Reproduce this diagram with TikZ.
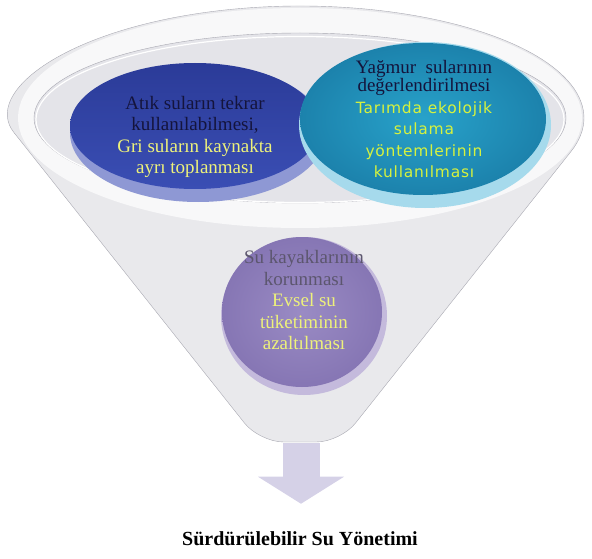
\documentclass[tikz,border=0pt]{standalone}
\usepackage{fontspec}
\setmainfont{Liberation Serif}
\newfontfamily\tahoma[LetterSpace=5]{DejaVu Sans}
\usetikzlibrary{shapes.geometric,arrows.meta,positioning}
\definecolor{kenar}{HTML}{A9A9B2}
\definecolor{agiz}{HTML}{E4E4E9}
\definecolor{govde}{HTML}{E9E9EC}
\definecolor{mavi}{HTML}{3A4EB4}
\definecolor{mavikoyu}{HTML}{2B3B98}
\definecolor{maviacik}{HTML}{8E98D4}
\definecolor{turkuaz}{HTML}{28A2CA}
\definecolor{turkuazkoyu}{HTML}{1C82AC}
\definecolor{turkuazacik}{HTML}{A6DAEC}
\definecolor{mor}{HTML}{9A8BC4}
\definecolor{morkoyu}{HTML}{8676B4}
\definecolor{moracik}{HTML}{C4BADC}
\definecolor{koyu}{HTML}{14143C}
\definecolor{gri}{HTML}{5C566E}
\definecolor{sari}{HTML}{EEF27A}
\definecolor{yesil}{HTML}{D6F23E}
\definecolor{ok}{HTML}{D5D1E7}

\begin{document}
\begin{tikzpicture}[x=1pt,y=-1pt]
\tikzstyle{every node}+=[inner sep=0pt]
\tikzstyle{balon}=[ellipse, inner sep=0pt]
\tikzstyle{yazi}=[align=center, font=\fontsize{19}{21.5}\selectfont]
\tikzstyle{okstil}=[ok, line width=37pt, -{Triangle[width=86pt,length=27pt,line width=0pt]}]
\useasboundingbox (0,0) rectangle (592,559);
% funnel
\draw [kenar, fill=govde] (29,151.5) arc[start angle=162.6, end angle=377.4, x radius=284, y radius=112] [rounded corners=24pt] -- (340.5,442) -- (259.5,442) -- cycle;
\fill [white!70!govde] (300,118) ellipse [x radius=282, y radius=110];
\draw [kenar, fill=agiz] (300,118) ellipse [x radius=266, y radius=85];
\draw [white, line width=1.2pt] (300,119.5) ellipse [x radius=264, y radius=83];
% blue
\node [balon, fill=maviacik, minimum width=256pt, minimum height=138pt] (atikalt) at (198,133) {};
\node [balon, top color=mavikoyu, bottom color=mavi, minimum width=250pt, minimum height=126pt] (atik) at (195,126) {};
\node [yazi] (atikyazi) at (195,137) {\textcolor{koyu}{Atık suların tekrar}\\ \textcolor{koyu}{kullanılabilmesi,}\\ \textcolor{sari}{Gri suların kaynakta}\\ \textcolor{sari}{ayrı toplanması}};
% teal
\node [balon, fill=turkuazacik, minimum width=252pt, minimum height=166pt] (yagmuralt) at (425,125) {};
\node [balon, inner color=turkuaz, outer color=turkuazkoyu, minimum width=246pt, minimum height=152pt] (yagmur) at (423,119) {};
\node [align=center, font=\fontsize{19}{21.5}\selectfont] (yagmuryazi) at (424,119) {\textcolor{koyu}{Yağmur\ \ sularının}\\[-3pt] \textcolor{koyu}{değerlendirilmesi}\\ \textcolor{yesil}{\tahoma\fontsize{15.5}{21.5}\selectfont Tarımda ekolojik}\\ \textcolor{yesil}{\tahoma\fontsize{15.5}{21.5}\selectfont sulama}\\ \textcolor{yesil}{\tahoma\fontsize{15.5}{21.5}\selectfont yöntemlerinin}\\ \textcolor{yesil}{\tahoma\fontsize{15.5}{21.5}\selectfont kullanılması}};
% purple
\node [balon, fill=moracik, minimum width=166pt, minimum height=158pt] (kaynakalt) at (304,316) {};
\node [balon, inner color=mor, outer color=morkoyu, minimum width=160pt, minimum height=150pt] (kaynak) at (302,312) {};
\node [yazi] (kaynakyazi) at (304,300) {\textcolor{gri}{Su kayaklarının}\\ \textcolor{gri}{korunması}\\ \textcolor{sari}{Evsel su}\\ \textcolor{sari}{tüketiminin}\\ \textcolor{sari}{azaltılması}};
% output
\node [font=\bfseries\fontsize{20}{22}\selectfont] (baslik) at (300,539) {Sürdürülebilir Su Yönetimi};
\coordinate (huniucu) at (301,443);
\draw [okstil, shorten >=28pt] (huniucu) -- (huniucu |- baslik.north);
\end{tikzpicture}
\end{document}
